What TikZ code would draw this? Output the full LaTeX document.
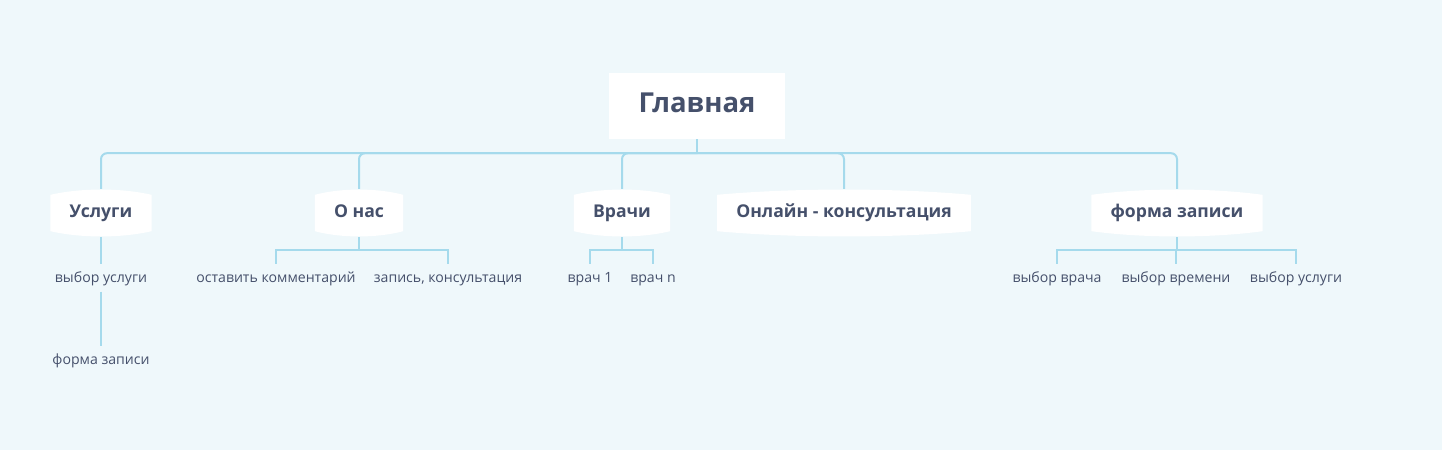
\documentclass[tikz,border=0pt]{standalone}
\usepackage{fontspec}
\setmainfont{Open Sans}
\usetikzlibrary{calc}
\definecolor{bgc}{HTML}{EFF8FB}
\definecolor{ln}{HTML}{A5DAEC}
\definecolor{tx}{HTML}{45506B}
\pgfdeclarelayer{back}
\pgfdeclarelayer{mid}
\pgfsetlayers{back,mid,main}
\newcommand\bubbleshape[1]{%
  \fill[white] let \p1=(#1.north west), \p2=(#1.south east), \n1={0.3*(\x2-\x1)} in
    (\x1,\y1-6pt) .. controls (\x1+\n1*1pt,\y1+1pt) and (\x2-\n1*1pt,\y1+1pt) .. (\x2,\y1-6pt)
    -- (\x2,\y2+6pt) .. controls (\x2-\n1*1pt,\y2-1pt) and (\x1+\n1*1pt,\y2-1pt) .. (\x1,\y2+6pt) -- cycle;}
\begin{document}
\begin{tikzpicture}[x=1pt,y=-1pt,
  mainbox/.style={fill=white,minimum width=176pt,minimum height=66pt,inner sep=0pt,
    text=tx,text height=1.2em,text depth=0pt,font=\fontsize{27.5}{32}\selectfont\bfseries},
  childbox/.style={inner xsep=19pt,inner ysep=0pt,minimum height=48pt,text=tx,
    text height=0.9em,text depth=0pt,font=\fontsize{17.6}{21}\selectfont\bfseries},
  subitem/.style={inner sep=0pt,minimum height=27pt,text=tx,
    text height=0.92em,text depth=0pt,font=\fontsize{14.1}{17}\selectfont},
  conn/.style={draw=ln,line width=2pt,rounded corners=6pt},
  subconn/.style={draw=ln,line width=2pt}]
\begin{pgfonlayer}{back}
\fill[bgc] (0,0) rectangle (1442,450);
\end{pgfonlayer}
\useasboundingbox (0,0) rectangle (1442,450);

\node[mainbox] (m) at (697,106) {Главная};

\node[childbox] (c1) at (101,213) {Услуги};
\node[childbox] (c2) at (359,213) {О нас};
\node[childbox] (c3) at (622,213) {Врачи};
\node[childbox] (c4) at (844,213) {Онлайн - консультация};
\node[childbox] (c5) at (1177,213) {форма записи};

\begin{pgfonlayer}{mid}
\bubbleshape{c1}\bubbleshape{c2}\bubbleshape{c3}\bubbleshape{c4}\bubbleshape{c5}
\end{pgfonlayer}

\node[subitem] (s11) at (101,278) {выбор услуги};
\node[subitem] (s12) at (101,360) {форма записи};
\node[subitem] (s21) at (276,278) {оставить комментарий};
\node[subitem] (s22) at (448,278) {запись, консультация};
\node[subitem] (s31) at (590,278) {врач 1};
\node[subitem] (s32) at (653,278) {врач n};
\node[subitem] (s51) at (1057,278) {выбор врача};
\node[subitem] (s52) at (1176,278) {выбор времени};
\node[subitem] (s53) at (1296,278) {выбор услуги};

\coordinate (j) at ($(m.south)+(0,14)$);
\draw[subconn] (m.south) -- (j);
\foreach \c in {c1,c2,c3,c4,c5}
  \draw[conn] (j) -| (\c.north);

\draw[subconn] (c1.south) -- (s11.north);
\draw[subconn] (s11.south) -- (s12.north);
\foreach \s in {s21,s22} \draw[subconn] (c2.south) -- ++(0,13) -| (\s.north);
\foreach \s in {s31,s32} \draw[subconn] (c3.south) -- ++(0,13) -| (\s.north);
\foreach \s in {s51,s52,s53} \draw[subconn] (c5.south) -- ++(0,13) -| (\s.north);
\end{tikzpicture}
\end{document}
